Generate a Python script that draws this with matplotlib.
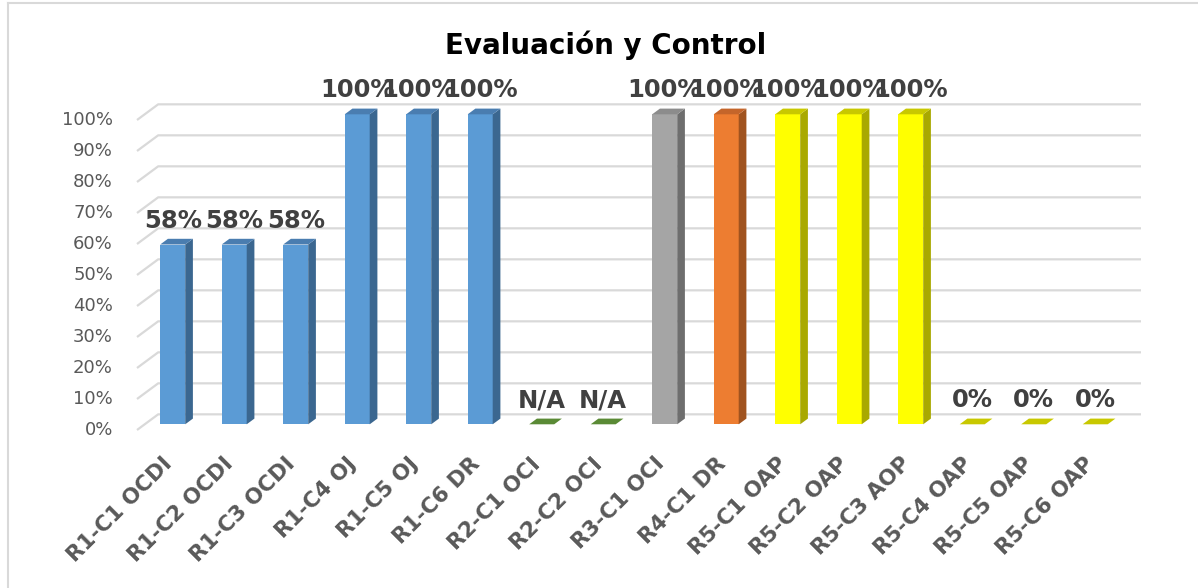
import numpy as np
import matplotlib.pyplot as plt
from matplotlib.lines import Line2D

# datos
categorias = ['R1-C1 OCDI', 'R1-C2 OCDI', 'R1-C3 OCDI', 'R1-C4 OJ', 'R1-C5 OJ',
              'R1-C6 DR', 'R2-C1 OCI', 'R2-C2 OCI', 'R3-C1 OCI', 'R4-C1 DR',
              'R5-C1 OAP', 'R5-C2 OAP', 'R5-C3 AOP', 'R5-C4 OAP', 'R5-C5 OAP',
              'R5-C6 OAP']
valores = [58, 58, 58, 100, 100, 100, 0, 0, 100, 100, 100, 100, 100, 0, 0, 0]
etiquetas = ['58%', '58%', '58%', '100%', '100%', '100%', 'N/A', 'N/A', '100%',
             '100%', '100%', '100%', '100%', '0%', '0%', '0%']
ticks = [0, 10, 20, 30, 40, 50, 60, 70, 80, 90, 100]

# colores (frente, lado, arriba)
azul = ('#5B9BD5', '#3B6790', '#4A7DB0')
verde = ('#5A8A35', '#3F6325', '#5A8A35')
gris = ('#A5A5A5', '#6E6E6E', '#8C8C8C')
naranja = ('#ED7D31', '#A0531F', '#C4652A')
amarillo = ('#FFFF00', '#A9A900', '#C8C800')
colores = [azul] * 6 + [verde] * 2 + [gris, naranja] + [amarillo] * 6

# escala en pixeles de la figura (plano frontal)
W, H = 1198, 588
X0, XS = 165, 61.5
Y0, YS = 430, 3.1

fig = plt.figure(figsize=(W / 100, H / 100), dpi=100)
ax = fig.add_axes([0, 0, 1, 1])
ax.set_xlim(-X0 / XS, (W - X0) / XS)
ax.set_ylim((Y0 - H) / YS, Y0 / YS)
ax.axis('off')

# vector de profundidad
DX = 7.7 / XS
DY = 5.7 / YS
hw = 12.5 / XS
prof_fondo = 2.75

# lineas de la cuadricula (pared del fondo)
x_ini = (137 - X0) / XS
x_fin = (1141 - X0) / XS
for t in ticks:
    ax.plot([x_ini, x_ini + prof_fondo * DX, x_fin],
            [t, t + prof_fondo * DY, t + prof_fondo * DY],
            color='#D9D9D9', lw=1.6, solid_capstyle='butt', zorder=1)
    ax.text(x_ini - 24 / XS, t, f'{t}%', ha='right', va='center',
            fontsize=13, color='#595959')

# barras 3D
for i, (v, c) in enumerate(zip(valores, colores)):
    xf = i + DX
    yb = DY
    if v > 0:
        ax.bar(xf, v, width=2 * hw, bottom=yb, color=c[0], zorder=3)
        ax.fill([xf + hw, xf + hw + DX, xf + hw + DX, xf + hw],
                [yb, yb + DY, yb + DY + v, yb + v], color=c[1], lw=0, zorder=3)
    ax.fill([xf - hw, xf + hw, xf + hw + DX, xf - hw + DX],
            [yb + v, yb + v, yb + v + DY, yb + v + DY], color=c[2], lw=0, zorder=3)
    ax.text(xf, yb + v + 17 / YS, etiquetas[i], ha='center', va='baseline',
            fontsize=17.5, fontweight='bold', color='#404040', zorder=4)

# etiquetas de categorias
for i, cat in enumerate(categorias):
    ax.text(i + 8 / XS, -35 / YS, cat, rotation=45, rotation_mode='anchor',
            ha='right', va='baseline', fontsize=15.5, fontweight='bold',
            color='#595959')

# titulo
fig.text(606 / W, 1 - 45 / H, 'Evaluación y Control', ha='center', va='center',
         fontsize=20, fontweight='bold', color='black')

# marco del grafico
fig.add_artist(Line2D([8 / W, 1], [1 - 3 / H, 1 - 3 / H], color='#D9D9D9', lw=1.5))
fig.add_artist(Line2D([8 / W, 8 / W], [0, 1 - 3 / H], color='#D9D9D9', lw=1.5))

fig.savefig('out.png', dpi=100)
